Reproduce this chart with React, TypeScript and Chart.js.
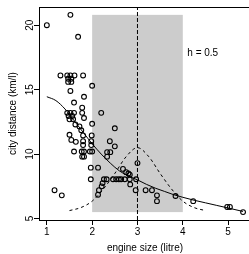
import React, { useEffect, useRef } from "react";
import { Chart, registerables } from "chart.js";
Chart.register(...registerables);

const FONT = "'Liberation Sans', Arial, Helvetica, sans-serif";

// scatter: engine size (litre) vs city distance (km/l)
const engineSize = [
  1.0, 1.52, 1.69,
  1.3, 1.45, 1.52, 1.61, 1.8,
  1.47, 1.54, 1.47, 1.54,
  2.0, 1.52, 1.82, 1.6, 1.78, 2.2,
  1.45, 1.52, 1.6, 1.48, 1.56, 1.5, 1.58, 1.78,
  1.82, 2.0, 1.63, 1.72, 2.5, 1.76,
  1.5, 1.8, 1.99, 1.54, 1.8, 1.98, 2.39, 1.64,
  1.8, 1.98, 2.5, 2.33, 2.4,
  1.6, 1.77, 1.82, 1.95, 2.0,
  2.33, 1.78, 1.82,
  1.97, 2.13, 2.68, 3.0, 2.75, 2.8, 2.83,
  1.97, 2.26, 2.32, 2.46, 2.53, 2.59, 2.64, 2.72, 2.83, 2.97,
  2.84, 2.23, 2.21, 2.15, 2.13, 1.17, 1.33,
  2.96, 3.18, 3.32, 3.43, 3.43, 3.84, 4.23, 4.98, 5.04, 5.33,
];
const cityDistance = [
  20.0, 20.8, 19.1,
  16.1, 16.1, 16.1, 16.1, 16.1,
  15.85, 15.85, 15.6, 15.6,
  15.3, 14.9, 14.45, 14.0, 13.6, 13.2,
  13.2, 13.2, 13.2, 12.95, 12.95, 12.7, 12.7, 13.2,
  12.8, 12.35, 12.3, 12.15, 12.0, 11.85,
  11.5, 11.45, 11.45, 11.1, 11.0, 11.0, 11.0, 10.95,
  10.7, 10.7, 10.6, 10.15, 10.15,
  10.2, 10.2, 10.2, 10.2, 10.2,
  9.8, 9.8, 9.8,
  8.95, 8.95, 8.85, 9.3, 8.6, 8.5, 8.4,
  8.05, 8.05, 8.05, 8.05, 8.05, 8.05, 8.05, 8.05, 8.05, 8.05,
  7.65, 7.75, 7.5, 7.2, 6.85, 7.2, 6.8,
  7.2, 7.2, 7.2, 6.8, 6.35, 6.75, 6.35, 5.9, 5.9, 5.5,
];

// smooth curve (solid)
const smoothX = [1.0, 1.2, 1.4, 1.6, 1.8, 2.0, 2.2, 2.4, 2.6, 2.8, 3.0, 3.2, 3.4, 3.6, 3.8, 4.0, 4.25, 4.5, 4.75, 5.0, 5.33];
const smoothY = [14.45, 14.15, 13.5, 12.6, 11.7, 10.8, 10.0, 9.3, 8.7, 8.3, 8.0, 7.65, 7.35, 7.1, 6.85, 6.65, 6.42, 6.22, 6.02, 5.82, 5.55];

// kernel weight curve (dashed)
const kernelX = [1.5, 1.75, 2.0, 2.25, 2.5, 2.75, 3.0, 3.25, 3.5, 3.75, 4.0, 4.25, 4.5];
const kernelY = [5.62, 5.85, 6.35, 7.3, 8.5, 9.8, 10.5, 9.8, 8.5, 7.3, 6.35, 5.85, 5.62];

const xTickValues = [1, 2, 3, 4, 5];
const yTickValues = [5, 10, 15, 20];
const xRange = [0.827, 5.503];
const yRange = [4.888, 21.41];
const bandX = [2, 4];
const bandY = [5.5, 20.8];
const centreX = [3, 3];
const bandwidthLabel = "h = 0.5";
const labelPos = [4.1, 17.84];
const xTitle = "engine size (litre)";
const yTitle = "city distance (km/l)";

const decorPlugin = {
  id: "decor",
  beforeDatasetsDraw(chart: any) {
    const { ctx, scales } = chart;
    const x = scales.x, y = scales.y;
    const l = x.getPixelForValue(bandX[0]);
    const r = x.getPixelForValue(bandX[1]);
    const t = y.getPixelForValue(bandY[1]);
    const b = y.getPixelForValue(bandY[0]);
    ctx.save();
    ctx.fillStyle = "#cccccc";
    ctx.fillRect(l, t, r - l, b - t);
    ctx.restore();
  },
  afterDraw(chart: any) {
    const { ctx, chartArea, scales } = chart;
    ctx.save();
    ctx.strokeStyle = "#000";
    ctx.lineWidth = 1;
    ctx.strokeRect(
      Math.round(chartArea.left) + 0.5,
      Math.round(chartArea.top) + 0.5,
      Math.round(chartArea.right - chartArea.left),
      Math.round(chartArea.bottom - chartArea.top)
    );
    ctx.fillStyle = "#000";
    ctx.font = `10px ${FONT}`;
    ctx.textAlign = "left";
    ctx.textBaseline = "middle";
    ctx.fillText(
      bandwidthLabel,
      scales.x.getPixelForValue(labelPos[0]),
      scales.y.getPixelForValue(labelPos[1])
    );
    ctx.restore();
  },
};

export default function App() {
  const ref = useRef<HTMLCanvasElement | null>(null);
  useEffect(() => {
    if (!ref.current) return;
    const font = { family: FONT, size: 10 };
    const chart = new Chart(ref.current, {
      type: "scatter",
      data: {
        datasets: [
          {
            label: "cars",
            data: engineSize.map((v, i) => ({ x: v, y: cityDistance[i] })),
            pointStyle: "circle",
            pointRadius: 2.4,
            pointBorderWidth: 1.1,
            pointBorderColor: "#000",
            pointBackgroundColor: "rgba(0,0,0,0)",
            showLine: false,
          } as any,
          {
            label: "smooth",
            data: smoothX.map((v, i) => ({ x: v, y: smoothY[i] })),
            showLine: true,
            pointRadius: 0,
            borderColor: "#000",
            borderWidth: 1,
            cubicInterpolationMode: "monotone",
          } as any,
          {
            label: "kernel",
            data: kernelX.map((v, i) => ({ x: v, y: kernelY[i] })),
            showLine: true,
            pointRadius: 0,
            borderColor: "#000",
            borderWidth: 1,
            borderDash: [3, 3],
            cubicInterpolationMode: "monotone",
          } as any,
          {
            label: "centre",
            data: centreX.map((v, i) => ({ x: v, y: yRange[i] })),
            showLine: true,
            pointRadius: 0,
            borderColor: "#000",
            borderWidth: 1,
            borderDash: [4, 2],
          } as any,
        ],
      },
      options: {
        responsive: false,
        animation: false,
        devicePixelRatio: 1,
        layout: { padding: { top: 7, right: 4, left: 0, bottom: 0 } },
        plugins: { legend: { display: false }, tooltip: { enabled: false } },
        scales: {
          x: {
            type: "linear",
            min: xRange[0],
            max: xRange[1],
            afterBuildTicks: (s: any) => {
              s.ticks = xTickValues.map((v) => ({ value: v }));
            },
            afterFit: (s: any) => {
              s.height = 34;
            },
            ticks: { font, color: "#000", padding: 1, maxRotation: 0, autoSkip: false },
            grid: { drawOnChartArea: false, drawTicks: true, tickLength: 5, color: "#000", lineWidth: 1 },
            border: { display: true, color: "#000", width: 1 },
            title: { display: true, text: xTitle, font, color: "#000", padding: { top: 0, bottom: 0 } },
          },
          y: {
            type: "linear",
            min: yRange[0],
            max: yRange[1],
            afterBuildTicks: (s: any) => {
              s.ticks = yTickValues.map((v) => ({ value: v }));
            },
            afterFit: (s: any) => {
              s.width = 39;
            },
            ticks: { font, color: "#000", padding: -1.5, minRotation: 90, maxRotation: 90, crossAlign: "center", autoSkip: false },
            grid: { drawOnChartArea: false, drawTicks: true, tickLength: 5, color: "#000", lineWidth: 1 },
            border: { display: true, color: "#000", width: 1 },
            title: { display: true, text: yTitle, font, color: "#000", padding: { top: 7, bottom: 0 } },
          },
        },
      } as any,
      plugins: [decorPlugin],
    });
    return () => chart.destroy();
  }, []);
  return (
    <div
      style={{
        position: "fixed",
        left: 0,
        top: 0,
        width: 249,
        height: 254,
        overflow: "hidden",
        background: "#fff",
      }}
    >
      <canvas ref={ref} width={256} height={254} style={{ display: "block" }} />
    </div>
  );
}
